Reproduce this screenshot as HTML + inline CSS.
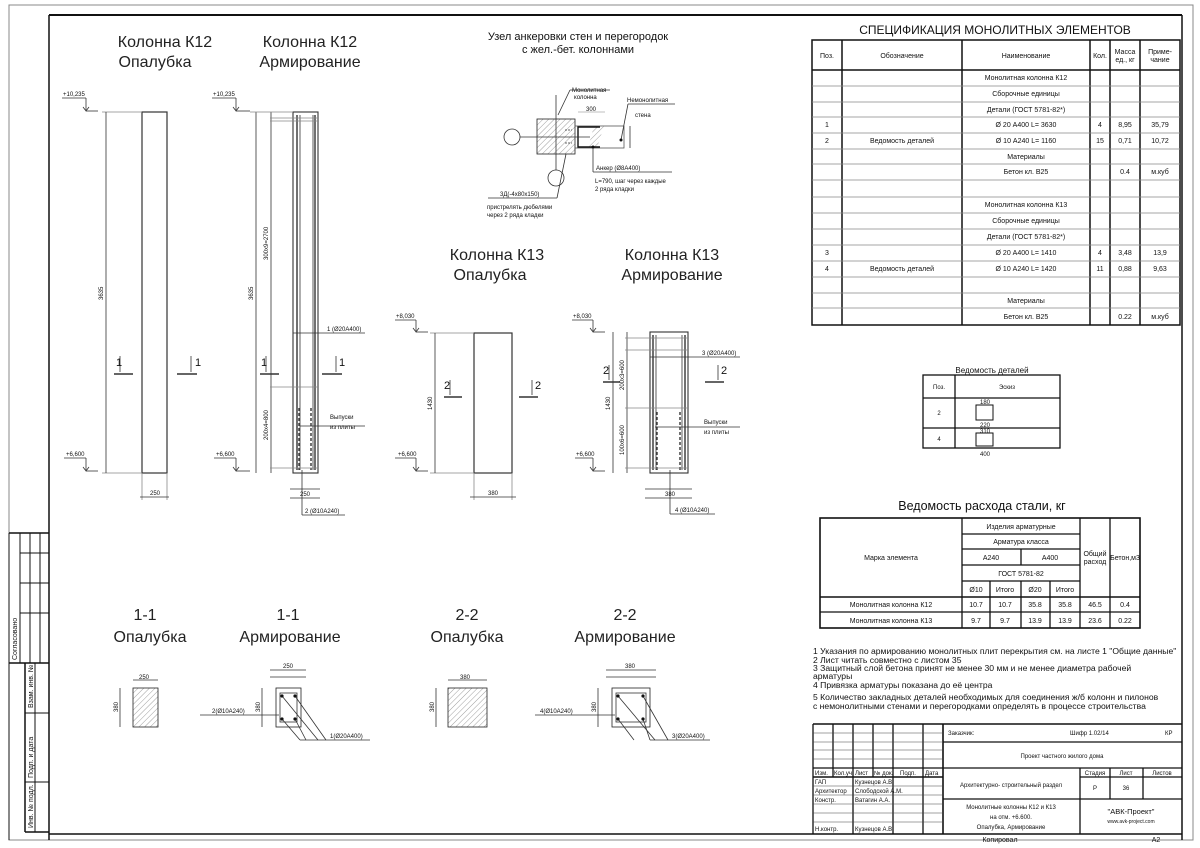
<!DOCTYPE html>
<html><head><meta charset="utf-8"><style>
html,body{margin:0;padding:0;background:#fff}
svg{display:block}
text{font-family:"Liberation Sans",sans-serif;fill:#111}
.t{font-size:16px;font-weight:300;fill:#222}
.s{font-size:7px}
.m{font-size:6px}
.n{font-size:10px}
</style></head><body>
<svg width="1200" height="848" viewBox="0 0 1200 848" xmlns="http://www.w3.org/2000/svg">
<defs>
<pattern id="h" width="4" height="4" patternUnits="userSpaceOnUse" patternTransform="rotate(45)"><line x1="0" y1="0" x2="0" y2="4" stroke="#777" stroke-width="0.7"/></pattern>
</defs>
<rect width="1200" height="848" fill="#fff"/>
<!-- frame -->
<g fill="none" stroke="#111">
<rect x="9" y="5" width="1184" height="835" stroke="#888" stroke-width="1"/>
<line x1="49" y1="15" x2="1182" y2="15" stroke-width="2"/>
<line x1="49" y1="15" x2="49" y2="840" stroke-width="1.5"/>
<line x1="1182" y1="15" x2="1182" y2="840" stroke-width="1.5"/>
<line x1="49" y1="834" x2="1182" y2="834" stroke-width="1.5"/>
<line x1="9" y1="533" x2="9" y2="840" stroke-width="1"/>
<!-- left stamp -->
<line x1="9" y1="533" x2="49" y2="533" stroke-width="1.5"/>
<line x1="20" y1="533" x2="20" y2="663" stroke-width="1"/>
<line x1="30" y1="533" x2="30" y2="663" stroke-width="1"/>
<line x1="40" y1="533" x2="40" y2="663" stroke-width="1"/>
<line x1="20" y1="553" x2="49" y2="553"/>
<line x1="20" y1="583" x2="49" y2="583"/>
<line x1="20" y1="613" x2="49" y2="613"/>
<line x1="9" y1="663" x2="49" y2="663" stroke-width="1.5"/>
<line x1="25" y1="663" x2="25" y2="832" stroke-width="1.5"/>
<line x1="35" y1="663" x2="35" y2="832" stroke-width="1"/>
<line x1="25" y1="713" x2="49" y2="713" stroke-width="1"/>
<line x1="25" y1="782" x2="49" y2="782" stroke-width="1"/>
<line x1="25" y1="832" x2="49" y2="832" stroke-width="1.5"/>
</g>
<text class="s" transform="translate(17,660) rotate(-90)">Согласовано</text>
<text class="s" transform="translate(33,708) rotate(-90)">Взам. инв. №</text>
<text class="s" transform="translate(33,778) rotate(-90)">Подп. и дата</text>
<text class="s" transform="translate(33,828) rotate(-90)">Инв. № подл.</text>

<!-- titles -->
<text class="t" x="165" y="47" text-anchor="middle">Колонна К12</text>
<text class="t" x="155" y="67" text-anchor="middle">Опалубка</text>
<text class="t" x="310" y="47" text-anchor="middle">Колонна К12</text>
<text class="t" x="310" y="67" text-anchor="middle">Армирование</text>
<text x="578" y="40" text-anchor="middle" style="font-size:11px">Узел анкеровки стен и перегородок</text>
<text x="578" y="53" text-anchor="middle" style="font-size:11px">с жел.-бет. колоннами</text>
<text class="t" x="497" y="260" text-anchor="middle">Колонна К13</text>
<text class="t" x="490" y="280" text-anchor="middle">Опалубка</text>
<text class="t" x="672" y="260" text-anchor="middle">Колонна К13</text>
<text class="t" x="672" y="280" text-anchor="middle">Армирование</text>
<text class="t" x="145" y="620" text-anchor="middle">1-1</text>
<text class="t" x="150" y="642" text-anchor="middle">Опалубка</text>
<text class="t" x="288" y="620" text-anchor="middle">1-1</text>
<text class="t" x="290" y="642" text-anchor="middle">Армирование</text>
<text class="t" x="467" y="620" text-anchor="middle">2-2</text>
<text class="t" x="467" y="642" text-anchor="middle">Опалубка</text>
<text class="t" x="625" y="620" text-anchor="middle">2-2</text>
<text class="t" x="625" y="642" text-anchor="middle">Армирование</text>

<g fill="none" stroke="#333" stroke-width="0.8">
<!-- K12 formwork -->
<rect x="142" y="112" width="25" height="361" stroke-width="1.2"/>
<line x1="102" y1="112" x2="142" y2="112" stroke="#888"/>
<line x1="102" y1="473" x2="142" y2="473" stroke="#888"/>
<line x1="106" y1="112" x2="106" y2="473"/>
<line x1="62" y1="98" x2="86" y2="98"/><line x1="86" y1="98" x2="86" y2="110"/><path d="M83 107 L86 111 L89 107"/><line x1="86" y1="111" x2="98" y2="111"/>
<line x1="64" y1="458" x2="86" y2="458"/><line x1="86" y1="458" x2="86" y2="470"/><path d="M83 467 L86 471 L89 467"/><line x1="86" y1="471" x2="98" y2="471"/>
<line x1="114" y1="374" x2="133" y2="374" stroke-width="1.6"/><line x1="120" y1="356" x2="120" y2="372"/>
<line x1="177" y1="374" x2="197" y2="374" stroke-width="1.6"/><line x1="191" y1="356" x2="191" y2="372"/>
<line x1="142" y1="473" x2="142" y2="500" stroke="#888"/><line x1="167" y1="473" x2="167" y2="500" stroke="#888"/><line x1="140" y1="497" x2="169" y2="497"/>
<!-- K12 reinforcement -->
<rect x="293" y="112" width="25" height="361" stroke-width="1.1"/>
<line x1="297" y1="115" x2="297" y2="470" stroke-width="1.4"/>
<line x1="300" y1="115" x2="300" y2="470"/>
<line x1="313" y1="115" x2="313" y2="470"/>
<line x1="315" y1="115" x2="315" y2="470" stroke-width="1.4"/>
<line x1="299" y1="408" x2="299" y2="470" stroke-dasharray="3,2" stroke-width="1.4"/>
<line x1="311" y1="408" x2="311" y2="470" stroke-dasharray="3,2" stroke-width="1.4"/>
<line x1="256" y1="112" x2="256" y2="473"/><line x1="271" y1="112" x2="271" y2="473"/>
<line x1="250" y1="112" x2="293" y2="112" stroke="#888"/><line x1="270" y1="118" x2="318" y2="118" stroke="#888"/><line x1="270" y1="121" x2="318" y2="121" stroke="#888"/>
<line x1="270" y1="387" x2="318" y2="387" stroke="#888"/><line x1="270" y1="468" x2="318" y2="468" stroke="#888"/>
<line x1="293" y1="333" x2="365" y2="333"/><line x1="300" y1="426" x2="365" y2="426"/>
<line x1="212" y1="98" x2="236" y2="98"/><line x1="236" y1="98" x2="236" y2="110"/><path d="M233 107 L236 111 L239 107"/><line x1="236" y1="111" x2="250" y2="111"/>
<line x1="214" y1="458" x2="236" y2="458"/><line x1="236" y1="458" x2="236" y2="470"/><path d="M233 467 L236 471 L239 467"/><line x1="236" y1="471" x2="250" y2="471"/>
<line x1="260" y1="374" x2="279" y2="374" stroke-width="1.6"/><line x1="266" y1="356" x2="266" y2="372"/>
<line x1="322" y1="374" x2="342" y2="374" stroke-width="1.6"/><line x1="336" y1="356" x2="336" y2="372"/>
<line x1="290" y1="489" x2="320" y2="489"/><line x1="290" y1="498" x2="320" y2="498"/>
<line x1="302" y1="470" x2="302" y2="515"/><line x1="302" y1="515" x2="345" y2="515"/>
<!-- anchor node -->
<rect x="537" y="119" width="38" height="35" fill="url(#h)" stroke="#222"/>
<rect x="575" y="126" width="49" height="22" stroke="#555"/>
<path d="M594 126 L604 126 L597 148 L588 148 Z" fill="url(#h)" stroke="none"/>
<path d="M600 127 L578 127 L578 147 L600 147" stroke="#111" stroke-width="1.4"/>
<line x1="556" y1="95" x2="556" y2="170"/>
<line x1="520" y1="137" x2="590" y2="137"/>
<circle cx="512" cy="137" r="8"/><circle cx="556" cy="178" r="8"/>
<line x1="565" y1="130" x2="572" y2="130" stroke-dasharray="2,1"/><line x1="565" y1="143" x2="572" y2="143" stroke-dasharray="2,1"/>
<line x1="578" y1="112" x2="605" y2="112" stroke="#aaa"/>
<line x1="558" y1="115" x2="570" y2="90"/><line x1="570" y1="90" x2="610" y2="90"/>
<line x1="621" y1="140" x2="628" y2="104"/><line x1="628" y1="104" x2="675" y2="104"/>
<line x1="593" y1="147" x2="593" y2="172"/><line x1="593" y1="172" x2="672" y2="172"/>
<line x1="566" y1="154" x2="557" y2="198"/><line x1="557" y1="198" x2="488" y2="198"/>
<line x1="630" y1="126" x2="630" y2="148"/>
<!-- K13 formwork -->
<rect x="474" y="333" width="38" height="140" stroke-width="1.2"/>
<line x1="430" y1="333" x2="474" y2="333" stroke="#888"/><line x1="430" y1="473" x2="474" y2="473" stroke="#888"/>
<line x1="435" y1="333" x2="435" y2="473"/>
<line x1="395" y1="320" x2="416" y2="320"/><line x1="416" y1="320" x2="416" y2="331"/><path d="M413 328 L416 332 L419 328"/><line x1="416" y1="332" x2="428" y2="332"/>
<line x1="395" y1="458" x2="416" y2="458"/><line x1="416" y1="458" x2="416" y2="470"/><path d="M413 467 L416 471 L419 467"/><line x1="416" y1="471" x2="428" y2="471"/>
<line x1="444" y1="397" x2="462" y2="397" stroke-width="1.6"/><line x1="450" y1="380" x2="450" y2="395"/>
<line x1="519" y1="397" x2="538" y2="397" stroke-width="1.6"/><line x1="532" y1="380" x2="532" y2="395"/>
<line x1="474" y1="473" x2="474" y2="500" stroke="#888"/><line x1="512" y1="473" x2="512" y2="500" stroke="#888"/><line x1="470" y1="497" x2="516" y2="497"/>
<!-- K13 reinforcement -->
<rect x="650" y="332" width="38" height="141" stroke-width="1.1"/>
<line x1="653" y1="335" x2="653" y2="470" stroke-width="1.4"/><line x1="656" y1="335" x2="656" y2="470"/>
<line x1="682" y1="335" x2="682" y2="470"/><line x1="685" y1="335" x2="685" y2="470" stroke-width="1.4"/>
<line x1="657" y1="412" x2="657" y2="470" stroke-dasharray="3,2" stroke-width="1.4"/><line x1="680" y1="412" x2="680" y2="470" stroke-dasharray="3,2" stroke-width="1.4"/>
<line x1="613" y1="332" x2="613" y2="473"/><line x1="627" y1="332" x2="627" y2="473"/>
<line x1="625" y1="338" x2="688" y2="338" stroke="#888"/><line x1="625" y1="350" x2="688" y2="350" stroke="#888"/>
<line x1="625" y1="408" x2="688" y2="408" stroke="#888"/><line x1="625" y1="468" x2="688" y2="468" stroke="#888"/>
<line x1="650" y1="357" x2="740" y2="357"/><line x1="655" y1="427" x2="740" y2="427"/>
<line x1="572" y1="320" x2="593" y2="320"/><line x1="593" y1="320" x2="593" y2="331"/><path d="M590 328 L593 332 L596 328"/><line x1="593" y1="332" x2="605" y2="332"/>
<line x1="575" y1="458" x2="593" y2="458"/><line x1="593" y1="458" x2="593" y2="470"/><path d="M590 467 L593 471 L596 467"/><line x1="593" y1="471" x2="605" y2="471"/>
<line x1="603" y1="382" x2="620" y2="382" stroke-width="1.6"/><line x1="609" y1="365" x2="609" y2="380"/>
<line x1="705" y1="382" x2="724" y2="382" stroke-width="1.6"/><line x1="718" y1="365" x2="718" y2="380"/>
<line x1="645" y1="489" x2="692" y2="489"/><line x1="645" y1="498" x2="692" y2="498"/>
<line x1="670" y1="470" x2="670" y2="514"/><line x1="670" y1="514" x2="715" y2="514"/>
<!-- sections -->
<rect x="133" y="688" width="25" height="39" fill="url(#h)" stroke="#222"/>
<line x1="133" y1="680" x2="158" y2="680"/><line x1="120" y1="688" x2="120" y2="727"/>
<rect x="276" y="688" width="25" height="39" stroke="#222"/>
<rect x="280" y="693" width="17" height="29"/>
<line x1="279" y1="715" x2="200" y2="715"/>
<line x1="282" y1="696" x2="318" y2="740"/><line x1="295" y1="696" x2="326" y2="740"/><line x1="282" y1="719" x2="300" y2="740"/><line x1="295" y1="719" x2="306" y2="740"/><line x1="300" y1="740" x2="370" y2="740"/>
<line x1="270" y1="670" x2="306" y2="670"/><line x1="270" y1="677" x2="306" y2="677"/><line x1="262" y1="688" x2="262" y2="727"/>
<rect x="448" y="688" width="39" height="39" fill="url(#h)" stroke="#222"/>
<line x1="448" y1="680" x2="487" y2="680"/><line x1="436" y1="688" x2="436" y2="727"/>
<rect x="612" y="688" width="38" height="39" stroke="#222"/>
<rect x="616" y="693" width="30" height="29"/>
<line x1="615" y1="715" x2="535" y2="715"/>
<line x1="618" y1="696" x2="655" y2="740"/><line x1="643" y1="696" x2="668" y2="740"/><line x1="618" y1="719" x2="634" y2="740"/><line x1="643" y1="719" x2="650" y2="740"/><line x1="650" y1="740" x2="710" y2="740"/>
<line x1="606" y1="670" x2="656" y2="670"/><line x1="606" y1="677" x2="656" y2="677"/><line x1="598" y1="688" x2="598" y2="727"/>
</g>
<g fill="#111">
<circle cx="282" cy="696" r="1.6"/><circle cx="295" cy="696" r="1.6"/><circle cx="282" cy="719" r="1.6"/><circle cx="295" cy="719" r="1.6"/>
<circle cx="618" cy="696" r="1.6"/><circle cx="643" cy="696" r="1.6"/><circle cx="618" cy="719" r="1.6"/><circle cx="643" cy="719" r="1.6"/>
<circle cx="621" cy="140" r="1.5"/><circle cx="593" cy="147" r="1.5"/>
</g>
<!-- drawing labels -->
<g class="m">
<text class="m" x="63" y="96">+10,235</text><text class="m" x="66" y="456">+6,600</text>
<text class="m" x="213" y="96">+10,235</text><text class="m" x="216" y="456">+6,600</text>
<text class="m" x="396" y="318">+8,030</text><text class="m" x="398" y="456">+6,600</text>
<text class="m" x="573" y="318">+8,030</text><text class="m" x="576" y="456">+6,600</text>
<text class="m" transform="translate(103,300) rotate(-90)">3635</text>
<text class="m" transform="translate(253,300) rotate(-90)">3635</text>
<text class="m" transform="translate(268,260) rotate(-90)">300х9=2700</text>
<text class="m" transform="translate(268,440) rotate(-90)">200х4=800</text>
<text class="m" transform="translate(432,410) rotate(-90)">1430</text>
<text class="m" transform="translate(610,410) rotate(-90)">1430</text>
<text class="m" transform="translate(624,390) rotate(-90)">200х3=600</text>
<text class="m" transform="translate(624,455) rotate(-90)">100х6=600</text>
<text class="m" x="150" y="495">250</text><text class="m" x="300" y="496">250</text>
<text class="m" x="488" y="495">380</text><text class="m" x="665" y="496">380</text>
<text class="m" x="283" y="668">250</text><text class="m" x="139" y="679">250</text><text class="m" x="460" y="679">380</text><text class="m" x="625" y="668">380</text>
<text class="m" transform="translate(118,712) rotate(-90)">380</text>
<text class="m" transform="translate(260,712) rotate(-90)">380</text>
<text class="m" transform="translate(434,712) rotate(-90)">380</text>
<text class="m" transform="translate(596,712) rotate(-90)">380</text>
<text class="m" x="586" y="111">300</text>
<text class="m" x="572" y="92">Монолитная</text><text class="m" x="574" y="99">колонна</text>
<text class="m" x="627" y="102">Немонолитная</text><text class="m" x="635" y="117">стена</text>
<text class="m" x="596" y="170">Анкер (Ø8А400)</text>
<text class="m" x="595" y="183">L=790, шаг через каждые</text><text class="m" x="595" y="191">2 ряда кладки</text>
<text class="m" x="500" y="196">3Д(-4х80х150)</text>
<text class="m" x="487" y="209">пристрелять дюбелями</text><text class="m" x="487" y="217">через 2 ряда кладки</text>
<text class="m" x="327" y="331">1 (Ø20А400)</text>
<text class="m" x="330" y="419">Выпуски</text><text class="m" x="330" y="429">из плиты</text>
<text class="m" x="305" y="513">2 (Ø10А240)</text>
<text class="m" x="702" y="355">3 (Ø20А400)</text>
<text class="m" x="704" y="424">Выпуски</text><text class="m" x="704" y="434">из плиты</text>
<text class="m" x="675" y="512">4 (Ø10А240)</text>
<text class="m" x="212" y="713">2(Ø10А240)</text><text class="m" x="330" y="738">1(Ø20А400)</text>
<text class="m" x="540" y="713">4(Ø10А240)</text><text class="m" x="672" y="738">3(Ø20А400)</text>
</g>
<text x="116" y="366" style="font-size:11px">1</text><text x="195" y="366" style="font-size:11px">1</text>
<text x="261" y="366" style="font-size:11px">1</text><text x="339" y="366" style="font-size:11px">1</text>
<text x="444" y="389" style="font-size:11px">2</text><text x="535" y="389" style="font-size:11px">2</text>
<text x="603" y="374" style="font-size:11px">2</text><text x="721" y="374" style="font-size:11px">2</text>

<!-- spec table -->
<text x="995" y="34" text-anchor="middle" style="font-size:12px">СПЕЦИФИКАЦИЯ МОНОЛИТНЫХ ЭЛЕМЕНТОВ</text>
<g fill="none" stroke="#111">
<rect x="812" y="40" width="368" height="285" stroke-width="1.5"/>
<line x1="812" y1="70" x2="1180" y2="70" stroke-width="1.5"/>
<line x1="842" y1="40" x2="842" y2="325" stroke-width="1.5"/><line x1="962" y1="40" x2="962" y2="325" stroke-width="1.5"/>
<line x1="1090" y1="40" x2="1090" y2="325" stroke-width="1.5"/><line x1="1110" y1="40" x2="1110" y2="325" stroke-width="1.5"/>
<line x1="1140" y1="40" x2="1140" y2="325" stroke-width="1.5"/>
</g>
<g stroke="#888" stroke-width="0.8">
<line x1="812" y1="86" x2="1180" y2="86"/><line x1="812" y1="102" x2="1180" y2="102"/><line x1="812" y1="117" x2="1180" y2="117"/><line x1="812" y1="133" x2="1180" y2="133"/><line x1="812" y1="149" x2="1180" y2="149"/><line x1="812" y1="164" x2="1180" y2="164"/><line x1="812" y1="180" x2="1180" y2="180"/><line x1="812" y1="197" x2="1180" y2="197"/><line x1="812" y1="213" x2="1180" y2="213"/><line x1="812" y1="229" x2="1180" y2="229"/><line x1="812" y1="245" x2="1180" y2="245"/><line x1="812" y1="261" x2="1180" y2="261"/><line x1="812" y1="277" x2="1180" y2="277"/><line x1="812" y1="293" x2="1180" y2="293"/><line x1="812" y1="308" x2="1180" y2="308"/>
</g>
<g class="s" text-anchor="middle">
<text class="s" x="827" y="58">Поз.</text><text class="s" x="902" y="58">Обозначение</text><text class="s" x="1026" y="58">Наименование</text><text class="s" x="1100" y="58">Кол.</text>
<text class="s" x="1125" y="54">Масса</text><text class="s" x="1125" y="62">ед., кг</text><text class="s" x="1160" y="54">Приме-</text><text class="s" x="1160" y="62">чание</text>
<text class="s" x="1026" y="80">Монолитная колонна К12</text>
<text class="s" x="1026" y="96">Сборочные единицы</text>
<text class="s" x="1026" y="112">Детали (ГОСТ 5781-82*)</text>
<text class="s" x="827" y="127">1</text><text class="s" x="1026" y="127">Ø 20 А400 L= 3630</text><text class="s" x="1100" y="127">4</text><text class="s" x="1125" y="127">8,95</text><text class="s" x="1160" y="127">35,79</text>
<text class="s" x="827" y="143">2</text><text class="s" x="902" y="143">Ведомость деталей</text><text class="s" x="1026" y="143">Ø 10 А240 L= 1160</text><text class="s" x="1100" y="143">15</text><text class="s" x="1125" y="143">0,71</text><text class="s" x="1160" y="143">10,72</text>
<text class="s" x="1026" y="159">Материалы</text>
<text class="s" x="1026" y="174">Бетон кл. В25</text><text class="s" x="1125" y="174">0.4</text><text class="s" x="1160" y="174">м.куб</text>
<text class="s" x="1026" y="207">Монолитная колонна К13</text>
<text class="s" x="1026" y="223">Сборочные единицы</text>
<text class="s" x="1026" y="239">Детали (ГОСТ 5781-82*)</text>
<text class="s" x="827" y="255">3</text><text class="s" x="1026" y="255">Ø 20 А400 L= 1410</text><text class="s" x="1100" y="255">4</text><text class="s" x="1125" y="255">3,48</text><text class="s" x="1160" y="255">13,9</text>
<text class="s" x="827" y="271">4</text><text class="s" x="902" y="271">Ведомость деталей</text><text class="s" x="1026" y="271">Ø 10 А240 L= 1420</text><text class="s" x="1100" y="271">11</text><text class="s" x="1125" y="271">0,88</text><text class="s" x="1160" y="271">9,63</text>
<text class="s" x="1026" y="303">Материалы</text>
<text class="s" x="1026" y="319">Бетон кл. В25</text><text class="s" x="1125" y="319">0.22</text><text class="s" x="1160" y="319">м.куб</text>
</g>

<!-- details table -->
<text x="992" y="373" text-anchor="middle" style="font-size:8px">Ведомость деталей</text>
<g fill="none" stroke="#111" stroke-width="1.3">
<rect x="923" y="375" width="137" height="73"/><line x1="955" y1="375" x2="955" y2="448"/>
<line x1="923" y1="398" x2="1060" y2="398"/><line x1="923" y1="428" x2="1060" y2="428"/>
<rect x="976" y="405" width="17" height="15" stroke-width="1"/><rect x="976" y="433" width="17" height="13" stroke-width="1"/>
</g>
<g class="m" text-anchor="middle"><text class="m" x="939" y="389">Поз.</text><text class="m" x="1007" y="389">Эскиз</text><text class="m" x="939" y="415">2</text><text class="m" x="939" y="441">4</text>
<text class="m" x="985" y="404">180</text><text class="m" x="985" y="427">220</text><text class="m" x="985" y="433">310</text><text class="m" x="985" y="456">400</text></g>

<!-- steel table -->
<text x="982" y="510" text-anchor="middle" style="font-size:12.5px;font-weight:300">Ведомость расхода стали, кг</text>
<g fill="none" stroke="#111" stroke-width="1.3">
<rect x="820" y="518" width="320" height="110" stroke-width="1.6"/>
<line x1="962" y1="518" x2="962" y2="628"/><line x1="1080" y1="518" x2="1080" y2="628"/><line x1="1110" y1="518" x2="1110" y2="628"/>
<line x1="962" y1="534" x2="1080" y2="534"/><line x1="962" y1="549" x2="1080" y2="549"/><line x1="962" y1="565" x2="1080" y2="565"/><line x1="962" y1="581" x2="1080" y2="581"/>
<line x1="820" y1="597" x2="1140" y2="597" stroke-width="1.6"/><line x1="820" y1="612" x2="1140" y2="612"/>
<line x1="1021" y1="549" x2="1021" y2="565"/><line x1="990" y1="581" x2="990" y2="628"/><line x1="1021" y1="581" x2="1021" y2="628"/><line x1="1050" y1="581" x2="1050" y2="628"/>
</g>
<g class="s" text-anchor="middle">
<text class="s" x="1021" y="529">Изделия арматурные</text><text class="s" x="1021" y="544">Арматура класса</text>
<text class="s" x="991" y="560">А240</text><text class="s" x="1050" y="560">А400</text><text class="s" x="1021" y="576">ГОСТ 5781-82</text>
<text class="s" x="891" y="560">Марка элемента</text><text class="s" x="1095" y="556">Общий</text><text class="s" x="1095" y="564">расход</text><text class="s" x="1125" y="560">Бетон,м3</text>
<text class="s" x="976" y="592">Ø10</text><text class="s" x="1005" y="592">Итого</text><text class="s" x="1035" y="592">Ø20</text><text class="s" x="1065" y="592">Итого</text>
<text class="s" x="891" y="607">Монолитная колонна К12</text><text class="s" x="976" y="607">10.7</text><text class="s" x="1005" y="607">10.7</text><text class="s" x="1035" y="607">35.8</text><text class="s" x="1065" y="607">35.8</text><text class="s" x="1095" y="607">46.5</text><text class="s" x="1125" y="607">0.4</text>
<text class="s" x="891" y="623">Монолитная колонна К13</text><text class="s" x="976" y="623">9.7</text><text class="s" x="1005" y="623">9.7</text><text class="s" x="1035" y="623">13.9</text><text class="s" x="1065" y="623">13.9</text><text class="s" x="1095" y="623">23.6</text><text class="s" x="1125" y="623">0.22</text>
</g>
<g style="font-size:8.6px">
<text x="813" y="654" style="font-size:8.6px">1 Указания по армированию монолитных плит перекрытия см. на листе 1 "Общие данные"</text>
<text x="813" y="663" style="font-size:8.6px">2 Лист читать совместно с листом 35</text>
<text x="813" y="671" style="font-size:8.6px">3 Защитный слой бетона  принят  не менее 30 мм и не менее диаметра рабочей</text>
<text x="813" y="679" style="font-size:8.6px">арматуры</text>
<text x="813" y="688" style="font-size:8.6px">4 Привязка арматуры показана до её центра</text>
<text x="813" y="700" style="font-size:8.6px">5 Количество закладных деталей необходимых для соединения  ж/б колонн и пилонов</text>
<text x="813" y="709" style="font-size:8.6px">с немонолитными стенами и перегородками определять в процессе строительства</text>
</g>

<!-- title block -->
<g fill="none" stroke="#111" stroke-width="1.3">
<line x1="813" y1="724" x2="1182" y2="724" stroke-width="1.6"/>
<line x1="813" y1="724" x2="813" y2="834"/>
<line x1="833" y1="724" x2="833" y2="777"/><line x1="853" y1="724" x2="853" y2="834"/><line x1="873" y1="724" x2="873" y2="777"/>
<line x1="893" y1="724" x2="893" y2="834"/><line x1="923" y1="724" x2="923" y2="834"/><line x1="943" y1="724" x2="943" y2="834" stroke-width="1.6"/>
<line x1="813" y1="768" x2="943" y2="768"/><line x1="813" y1="777" x2="943" y2="777" stroke-width="1.6"/>
<line x1="943" y1="742" x2="1182" y2="742"/><line x1="943" y1="768" x2="1182" y2="768"/><line x1="943" y1="799" x2="1182" y2="799"/>
<line x1="1080" y1="768" x2="1080" y2="834"/><line x1="1110" y1="768" x2="1110" y2="799"/><line x1="1143" y1="768" x2="1143" y2="799"/>
<line x1="1080" y1="777" x2="1182" y2="777"/>
</g>
<g stroke="#444" stroke-width="0.6">
<line x1="813" y1="733" x2="943" y2="733"/><line x1="813" y1="742" x2="943" y2="742"/><line x1="813" y1="750" x2="943" y2="750"/><line x1="813" y1="759" x2="943" y2="759"/>
<line x1="813" y1="786" x2="943" y2="786"/><line x1="813" y1="795" x2="943" y2="795"/><line x1="813" y1="804" x2="943" y2="804"/><line x1="813" y1="813" x2="943" y2="813"/><line x1="813" y1="822" x2="943" y2="822"/>
</g>
<g class="m">
<text class="m" x="815" y="775">Изм.</text><text class="m" x="834" y="775">Кол.уч</text><text class="m" x="855" y="775">Лист</text><text class="m" x="874" y="775">№ док.</text><text class="m" x="900" y="775">Подп.</text><text class="m" x="925" y="775">Дата</text>
<text class="m" x="815" y="784">ГАП</text><text class="m" x="855" y="784">Кузнецов А.В.</text>
<text class="m" x="815" y="793">Архитектор</text><text class="m" x="855" y="793">Слободской А.М.</text>
<text class="m" x="815" y="802">Констр.</text><text class="m" x="855" y="802">Ватагин А.А.</text>
<text class="m" x="815" y="831">Н.контр.</text><text class="m" x="855" y="831">Кузнецов А.В.</text>
<text class="m" x="948" y="735">Заказчик:</text><text class="m" x="1070" y="735">Шифр 1.02/14</text><text class="m" x="1165" y="735">КР</text>
</g>
<g class="m" text-anchor="middle">
<text class="m" x="1062" y="758">Проект частного жилого дома</text>
<text class="m" x="1011" y="787">Архитектурно- строительный раздел</text>
<text class="m" x="1095" y="775">Стадия</text><text class="m" x="1126" y="775">Лист</text><text class="m" x="1162" y="775">Листов</text>
<text class="m" x="1095" y="790">Р</text><text class="m" x="1126" y="790">36</text>
<text class="m" x="1011" y="809">Монолитные колонны К12 и К13</text><text class="m" x="1011" y="819">на отм. +6.600.</text><text class="m" x="1011" y="829">Опалубка, Армирование</text>
<text x="1131" y="814" text-anchor="middle" style="font-size:7.5px">"АВК-Проект"</text><text x="1131" y="823" text-anchor="middle" style="font-size:5px">www.avk-project.com</text>
<text class="s" x="1000" y="842">Копировал</text><text class="s" x="1156" y="842">А2</text>
</g>
</svg>
</body></html>
